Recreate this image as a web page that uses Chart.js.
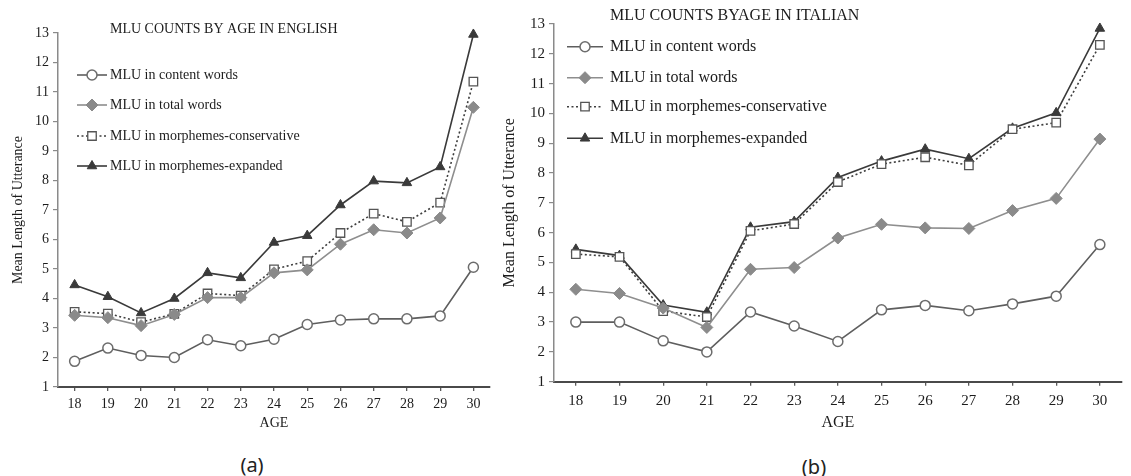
<!DOCTYPE html>
<html>
<head>
<meta charset="utf-8">
<title>MLU counts by age</title>
<script src="https://cdn.jsdelivr.net/npm/chart.js@4/dist/chart.umd.min.js"></script>
<style>
  html, body { margin: 0; padding: 0; background: #fff; }
  body { width: 1131px; height: 476px; position: relative; overflow: hidden; }
  #chartA { position: absolute; left: 0; top: 0; }
  #chartB { position: absolute; left: 500px; top: 0; }
  .cap {
    position: absolute; transform: translate(-50%, -50%); line-height: 1;
    font-family: "Noto Sans", "Open Sans", sans-serif; font-size: 20px; color: #222;
  }
</style>
</head>
<body>
<canvas id="chartA" width="500" height="432"></canvas>
<canvas id="chartB" width="631" height="432"></canvas>
<div class="cap" style="left:252px; top:465px;">(a)</div>
<div class="cap" style="left:814px; top:467px;">(b)</div>

<script>
// Ages on the horizontal axis
const ages = ['18', '19', '20', '21', '22', '23', '24', '25', '26', '27', '28', '29', '30'];

// Series names
const seriesNames = [
  'MLU in content words',
  'MLU in total words',
  'MLU in morphemes-conservative',
  'MLU in morphemes-expanded'
];

// English MLU by age
const enContent      = [1.87, 2.32, 2.07, 2.00, 2.60, 2.40, 2.62, 3.12, 3.27, 3.31, 3.31, 3.41, 5.06];
const enTotal        = [3.43, 3.35, 3.08, 3.46, 4.03, 4.03, 4.87, 4.97, 5.84, 6.33, 6.22, 6.73, 10.48];
const enConservative = [3.55, 3.49, 3.20, 3.48, 4.17, 4.10, 4.99, 5.27, 6.22, 6.88, 6.60, 7.25, 11.35];
const enExpanded     = [4.46, 4.06, 3.51, 4.00, 4.87, 4.70, 5.90, 6.13, 7.17, 7.98, 7.92, 8.46, 12.95];

// Italian MLU by age
const itContent      = [3.00, 3.00, 2.37, 2.00, 3.34, 2.87, 2.35, 3.41, 3.56, 3.38, 3.61, 3.87, 5.60];
const itTotal        = [4.10, 3.96, 3.47, 2.82, 4.77, 4.83, 5.82, 6.28, 6.16, 6.14, 6.74, 7.15, 9.14];
const itConservative = [5.28, 5.19, 3.37, 3.17, 6.06, 6.29, 7.70, 8.30, 8.53, 8.26, 9.47, 9.69, 12.30];
const itExpanded     = [5.44, 5.23, 3.57, 3.33, 6.18, 6.37, 7.85, 8.40, 8.80, 8.48, 9.50, 10.02, 12.85];

// Y axis range / step
const yMin = 1, yMax = 13, yStep = 1;

const SERIF = '"Liberation Serif", "Times New Roman", serif';
const TEXT = '#1c1c1c';

// Look of each of the four series (same in both panels)
const seriesStyles = [
  { borderColor: '#5e5e5e', borderWidth: 1.6, pointStyle: 'circle', pointRadius: 5,
    pointBackgroundColor: '#ffffff', pointBorderColor: '#6c6c6c', pointBorderWidth: 1.5 },
  { borderColor: '#8e8e8e', borderWidth: 1.6, pointStyle: 'rectRot', pointRadius: 6,
    pointBackgroundColor: '#8a8a8a', pointBorderColor: '#8a8a8a', pointBorderWidth: 1 },
  { borderColor: '#3e3e3e', borderWidth: 1.6, borderDash: [2, 2.5], pointStyle: 'rect', pointRadius: 6,
    pointBackgroundColor: '#ffffff', pointBorderColor: '#555555', pointBorderWidth: 1.3 },
  { borderColor: '#3a3a3a', borderWidth: 1.6, pointStyle: 'triangle', pointRadius: 5.5,
    pointBackgroundColor: '#3a3a3a', pointBorderColor: '#3a3a3a', pointBorderWidth: 1 }
];

// Small marker painter for the in-plot legend
function drawMarker(ctx, style, x, y, r, fill, stroke, lw) {
  ctx.save();
  ctx.beginPath();
  if (style === 'circle') {
    ctx.arc(x, y, r, 0, Math.PI * 2);
  } else if (style === 'rectRot') {
    ctx.moveTo(x, y - r); ctx.lineTo(x + r, y); ctx.lineTo(x, y + r); ctx.lineTo(x - r, y);
    ctx.closePath();
  } else if (style === 'rect') {
    const s = r * Math.SQRT1_2;
    ctx.rect(x - s, y - s, 2 * s, 2 * s);
  } else if (style === 'triangle') {
    const a = r * Math.cos(Math.PI / 6), b = r * 0.5;
    ctx.moveTo(x, y - r); ctx.lineTo(x + a, y + b); ctx.lineTo(x - a, y + b);
    ctx.closePath();
  }
  ctx.setLineDash([]);
  ctx.fillStyle = fill; ctx.fill();
  ctx.lineWidth = lw; ctx.strokeStyle = stroke; ctx.stroke();
  ctx.restore();
}

// Panel heading and legend drawn inside the plot
const panelDecor = {
  id: 'panelDecor',
  afterDraw(chart, args, o) {
    const ctx = chart.ctx;
    ctx.save();
    ctx.textAlign = 'left';
    ctx.textBaseline = 'middle';
    ctx.fillStyle = TEXT;
    ctx.font = o.titleSize + 'px ' + SERIF;
    ctx.fillText(o.title, o.textX, o.titleY);
    chart.data.datasets.forEach((ds, i) => {
      const y = o.rowY[i];
      ctx.beginPath();
      ctx.setLineDash(ds.borderDash || []);
      ctx.strokeStyle = ds.borderColor;
      ctx.lineWidth = ds.borderWidth;
      ctx.moveTo(o.lineX0, y);
      ctx.lineTo(o.lineX1, y);
      ctx.stroke();
      ctx.setLineDash([]);
      drawMarker(ctx, ds.pointStyle, (o.lineX0 + o.lineX1) / 2, y, ds.pointRadius,
                 ds.pointBackgroundColor, ds.pointBorderColor, ds.pointBorderWidth);
      ctx.fillStyle = TEXT;
      ctx.font = o.legendSize + 'px ' + SERIF;
      ctx.fillText(ds.label, o.textX, y);
    });
    ctx.restore();
  }
};

function buildPanel(canvasId, series, cfg) {
  const datasets = series.map((values, i) => Object.assign({
    label: seriesNames[i],
    data: values,
    fill: false,
    tension: 0,
    clip: false
  }, seriesStyles[i]));

  return new Chart(document.getElementById(canvasId), {
    type: 'line',
    data: { labels: ages, datasets },
    plugins: [panelDecor],
    options: {
      responsive: false,
      animation: false,
      layout: { padding: cfg.padding },
      plugins: {
        legend: { display: false },
        title: { display: false },
        tooltip: { enabled: false },
        panelDecor: cfg.decor
      },
      scales: {
        x: {
          type: 'category',
          offset: true,
          grid: { display: true, drawOnChartArea: false, drawTicks: true, offset: false,
                  tickLength: 4, color: '#5a5a5a', lineWidth: 1.3 },
          border: { display: true, color: '#4a4a4a', width: 2 },
          ticks: { color: TEXT, font: { family: SERIF, size: cfg.tickSize },
                   padding: cfg.xTickPad, maxRotation: 0, autoSkip: false },
          title: { display: true, text: 'AGE', color: TEXT,
                   font: { family: SERIF, size: cfg.axisTitleSize }, padding: 0 },
          afterFit(s) { s.height = cfg.xHeight; }
        },
        y: {
          min: yMin, max: yMax,
          grid: { display: true, drawOnChartArea: false, drawTicks: true,
                  tickLength: 5, color: '#8a8a8a', lineWidth: 1.2 },
          border: { display: true, color: '#8a8a8a', width: 1.5 },
          ticks: { stepSize: yStep, color: TEXT, font: { family: SERIF, size: cfg.tickSize },
                   padding: 4 },
          title: { display: true, text: 'Mean Length of Utterance', color: TEXT,
                   font: { family: SERIF, size: cfg.axisTitleSize }, padding: 0 },
          afterFit(s) { s.width = cfg.yWidth; }
        }
      }
    }
  });
}

buildPanel('chartA', [enContent, enTotal, enConservative, enExpanded], {
  padding: { left: 10, right: 10, top: 33, bottom: 0 },
  yWidth: 48, xHeight: 45,
  tickSize: 14, axisTitleSize: 14, xTickPad: 5,
  decor: {
    title: 'MLU COUNTS BY AGE IN ENGLISH', titleSize: 14, titleY: 29,
    textX: 110, legendSize: 14, lineX0: 77, lineX1: 107,
    rowY: [75, 105, 136, 166]
  }
});

buildPanel('chartB', [itContent, itTotal, itConservative, itExpanded], {
  padding: { left: 0, right: 9.3, top: 24, bottom: 0 },
  yWidth: 54, xHeight: 50.3,
  tickSize: 15, axisTitleSize: 16, xTickPad: 6,
  decor: {
    title: 'MLU COUNTS BYAGE IN ITALIAN', titleSize: 16, titleY: 16,
    textX: 110, legendSize: 16, lineX0: 67, lineX1: 103,
    rowY: [46.7, 77.7, 106.7, 138.3]
  }
});
</script>
</body>
</html>
